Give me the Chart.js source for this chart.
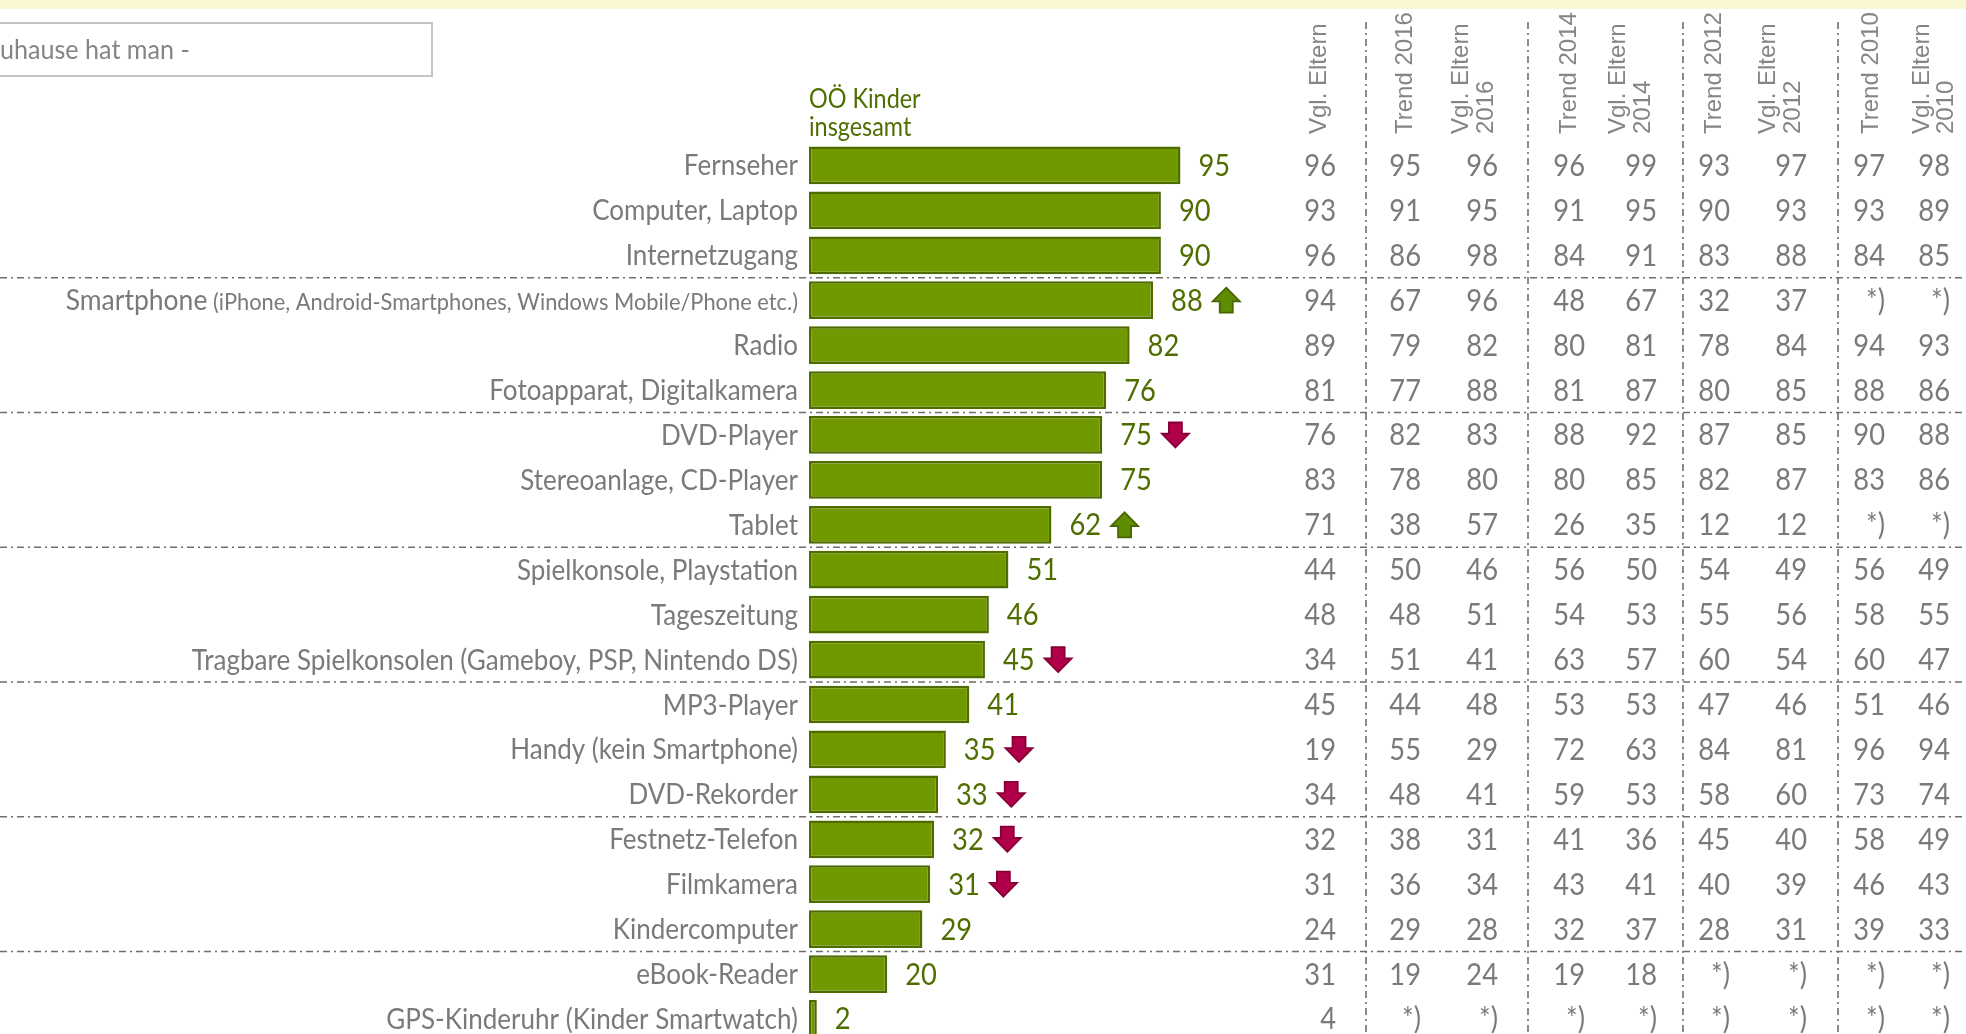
<!DOCTYPE html>
<html><head><meta charset="utf-8">
<script src="https://cdn.jsdelivr.net/npm/chart.js@4.4.1/dist/chart.umd.min.js"></script>
<style>html,body{margin:0;padding:0;overflow:hidden;background:#fff;width:1966px;height:1034px}canvas{display:block}</style>
</head><body>
<canvas id="c" width="1966" height="1060" style="width:1966px;height:1060px"></canvas>
<script>
// ---------- data ----------
const categories = ["Fernseher","Computer, Laptop","Internetzugang","Smartphone","Radio","Fotoapparat, Digitalkamera","DVD-Player","Stereoanlage, CD-Player","Tablet","Spielkonsole, Playstation","Tageszeitung","Tragbare Spielkonsolen (Gameboy, PSP, Nintendo DS)","MP3-Player","Handy (kein Smartphone)","DVD-Rekorder","Festnetz-Telefon","Filmkamera","Kindercomputer","eBook-Reader","GPS-Kinderuhr (Kinder Smartwatch)"];
const categoryNotes = {"Smartphone":"(iPhone, Android-Smartphones, Windows Mobile/Phone etc.)"};
const kinderInsgesamt = [95,90,90,88,82,76,75,75,62,51,46,45,41,35,33,32,31,29,20,2];
const trendArrow = [0,0,0,1,0,0,-1,0,1,0,0,-1,0,-1,-1,-1,-1,0,0,0];
const vglEltern      = [96,93,96,94,89,81,76,83,71,44,48,34,45,19,34,32,31,24,31,4];
const trend2016      = [95,91,86,67,79,77,82,78,38,50,48,51,44,55,48,38,36,29,19,null];
const vglEltern2016  = [96,95,98,96,82,88,83,80,57,46,51,41,48,29,41,31,34,28,24,null];
const trend2014      = [96,91,84,48,80,81,88,80,26,56,54,63,53,72,59,41,43,32,19,null];
const vglEltern2014  = [99,95,91,67,81,87,92,85,35,50,53,57,53,63,53,36,41,37,18,null];
const trend2012      = [93,90,83,32,78,80,87,82,12,54,55,60,47,84,58,45,40,28,null,null];
const vglEltern2012  = [97,93,88,37,84,85,85,87,12,49,56,54,46,81,60,40,39,31,null,null];
const trend2010      = [97,93,84,null,94,88,90,83,null,56,58,60,51,96,73,58,46,39,null,null];
const vglEltern2010  = [98,89,85,null,93,86,88,86,null,49,55,47,46,94,74,49,43,33,null,null];
const tableColumns = [vglEltern,trend2016,vglEltern2016,trend2014,vglEltern2014,trend2012,vglEltern2012,trend2010,vglEltern2010];
const columnHeaders = [["Vgl. Eltern"],["Trend 2016"],["Vgl. Eltern","2016"],["Trend 2014"],["Vgl. Eltern","2014"],["Trend 2012"],["Vgl. Eltern","2012"],["Trend 2010"],["Vgl. Eltern","2010"]];
const missingMark = "*)";
const seriesTitle = ["OÖ Kinder","insgesamt"];
const boxText = "uhause hat man -";
const groupBreaks = [3,6,9,12,15,18];

// ---------- layout ----------
const W = 1966, H = 1060;
const COL_RIGHT = [1336,1421,1498,1585,1657,1730,1807,1885,1950];
const HEAD_X = [[1319],[1405],[1461,1486],[1569],[1618,1643],[1714],[1768,1793],[1871],[1922,1946]];
const VLINES = [1366,1528,1683,1838];
const SX_LABEL = 0.93, SX_NUM = 0.91;
const GREEN_TXT = '#4e6e00', GRAY = '#7a7a7a';

function txt(ctx, s, x, y, size, color, align, sx) {
  ctx.save();
  ctx.font = size + 'px Lato';
  ctx.fillStyle = color; ctx.textAlign = align || 'left'; ctx.textBaseline = 'alphabetic';
  ctx.translate(x, y); ctx.scale(sx, 1);
  ctx.fillText(s, 0, 0); ctx.restore();
}
function tw(ctx, s, size, sx) {
  ctx.save(); ctx.font = size + 'px Lato';
  const w = ctx.measureText(s).width * sx; ctx.restore(); return w;
}
function dashLine(ctx, x1, y1, x2, y2) {
  ctx.save(); ctx.strokeStyle = '#6e6e6e'; ctx.lineWidth = 1.6; ctx.setLineDash([7,4,2,4]);
  ctx.beginPath(); ctx.moveTo(x1, y1); ctx.lineTo(x2, y2); ctx.stroke(); ctx.restore();
}
function arrow(ctx, x0, cy, dir) {
  const w = 27, h = 25, top = cy - h/2, bot = cy + h/2, cx = x0 + w/2, sw = 6.5;
  ctx.save();
  ctx.beginPath();
  if (dir > 0) {
    const hy = top + h*0.55;
    ctx.moveTo(cx, top); ctx.lineTo(x0+w, hy); ctx.lineTo(cx+sw, hy); ctx.lineTo(cx+sw, bot);
    ctx.lineTo(cx-sw, bot); ctx.lineTo(cx-sw, hy); ctx.lineTo(x0, hy);
    ctx.fillStyle = '#5f8c00'; ctx.strokeStyle = '#476600';
  } else {
    const hy = bot - h*0.55;
    ctx.moveTo(cx, bot); ctx.lineTo(x0+w, hy); ctx.lineTo(cx+sw, hy); ctx.lineTo(cx+sw, top);
    ctx.lineTo(cx-sw, top); ctx.lineTo(cx-sw, hy); ctx.lineTo(x0, hy);
    ctx.fillStyle = '#b1004a'; ctx.strokeStyle = '#860036';
  }
  ctx.closePath(); ctx.lineJoin = 'miter'; ctx.lineWidth = 1.8; ctx.fill(); ctx.stroke(); ctx.restore();
}

const decor = {
  id: 'decor',
  beforeDatasetsDraw(chart) {
    const ctx = chart.ctx, y = chart.scales.y;
    ctx.save(); ctx.fillStyle = '#faf8d3'; ctx.fillRect(0, 0, W, 9);
    ctx.strokeStyle = '#c4c4c4'; ctx.lineWidth = 2; ctx.strokeRect(-3, 23, 435, 53); ctx.restore();
    txt(ctx, boxText, 0, 59, 27, '#858585', 'left', SX_LABEL);
    groupBreaks.forEach(b => {
      const yy = (y.getPixelForValue(b - 1) + y.getPixelForValue(b)) / 2;
      dashLine(ctx, 0, yy, W, yy);
    });
    VLINES.forEach(x => dashLine(ctx, x, 22, x, H));
  },
  afterDatasetsDraw(chart) {
    const ctx = chart.ctx, y = chart.scales.y, x = chart.scales.x;
    const left = chart.chartArea.left;
    txt(ctx, seriesTitle[0], left, 108, 26, GREEN_TXT, 'left', 0.9);
    txt(ctx, seriesTitle[1], left, 136, 26, GREEN_TXT, 'left', 0.9);
    columnHeaders.forEach((lines, c) => {
      lines.forEach((s, k) => {
        ctx.save(); ctx.translate(HEAD_X[c][k], 134); ctx.rotate(-Math.PI/2);
        ctx.font = '24px "Liberation Sans", Arial, sans-serif'; ctx.fillStyle = '#858585';
        ctx.textAlign = 'left'; ctx.textBaseline = 'middle'; ctx.fillText(s, 0, 0); ctx.restore();
      });
    });
    categories.forEach((cat, i) => {
      const cy = y.getPixelForValue(i);
      const lx = left - 11;
      const note = categoryNotes[cat];
      if (note) {
        const nw = tw(ctx, ' ' + note, 23.5, SX_LABEL);
        txt(ctx, ' ' + note, lx, cy + 10, 23.5, GRAY, 'right', SX_LABEL);
        txt(ctx, cat, lx - nw, cy + 10, 28.5, GRAY, 'right', SX_LABEL);
      } else {
        txt(ctx, cat, lx, cy + 10, 28, GRAY, 'right', SX_LABEL);
      }
      const v = kinderInsgesamt[i];
      const vx = x.getPixelForValue(v) + 18;
      const s = String(v);
      txt(ctx, s, vx, cy + 10.5, 30, GREEN_TXT, 'left', SX_NUM);
      if (trendArrow[i]) arrow(ctx, vx + tw(ctx, s, 30, SX_NUM) + 10, cy, trendArrow[i]);
      tableColumns.forEach((col, c) => {
        const val = col[i];
        txt(ctx, val == null ? missingMark : String(val), COL_RIGHT[c], cy + 10.5, 30, GRAY, 'right', SX_NUM);
      });
    });
  }
};

const barLeft = 809, pxPerUnit = 3.91, xMax = 100;
const chartTop = 143, rowH = 44.92;
new Chart(document.getElementById('c'), {
  type: 'bar',
  data: {
    labels: categories,
    datasets: [{
      data: kinderInsgesamt,
      backgroundColor: '#709900',
      borderColor: '#4e6b00',
      borderWidth: 2.5,
      borderSkipped: false,
      categoryPercentage: 1,
      barPercentage: 0.84
    }]
  },
  options: {
    indexAxis: 'y',
    responsive: false,
    animation: false,
    events: [],
    layout: { padding: {
      left: barLeft,
      right: W - barLeft - xMax * pxPerUnit,
      top: chartTop,
      bottom: H - chartTop - rowH * categories.length
    }},
    scales: {
      x: { display: false, min: 0, max: xMax },
      y: { display: false }
    },
    plugins: { legend: { display: false }, tooltip: { enabled: false } }
  },
  plugins: [decor]
});
</script>
</body></html>
